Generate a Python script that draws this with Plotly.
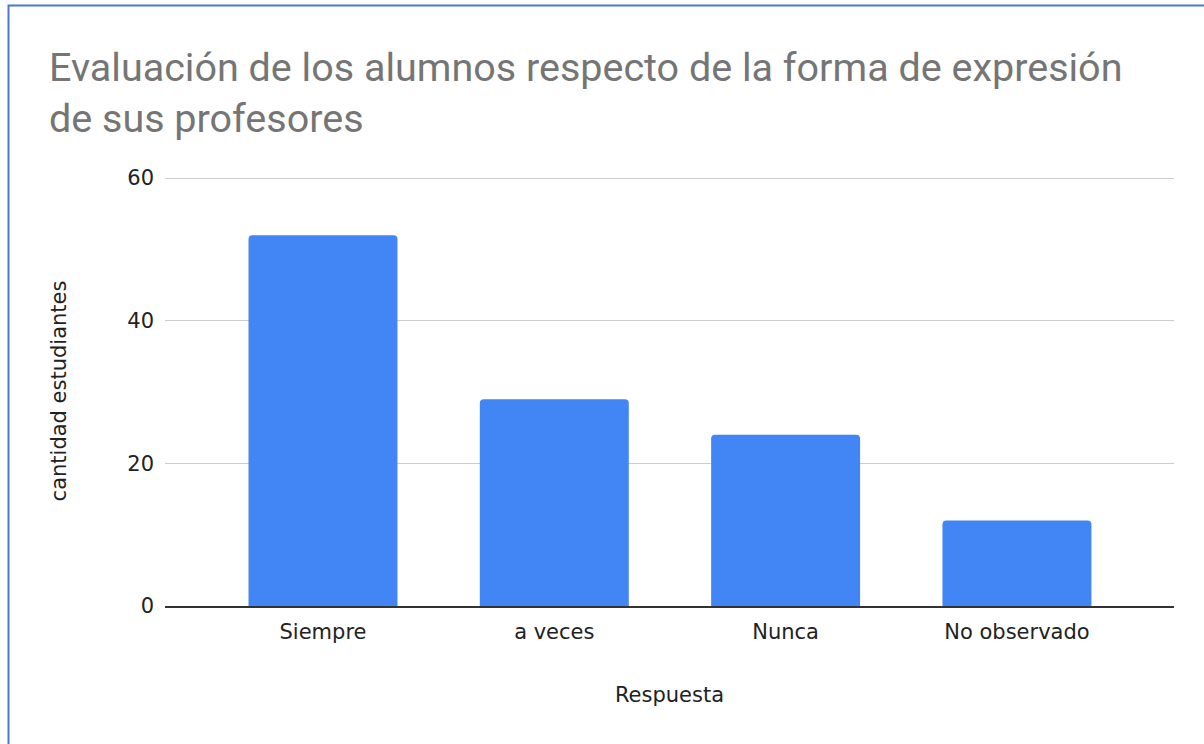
import plotly.graph_objects as go

categories = ["Siempre", "a veces", "Nunca", "No observado"]
values = [52, 29, 24, 12]
y_ticks = [0, 20, 40, 60]

W, H = 1204, 744
ML, MR, MT, MB = 165, 30, 176, 138

fig = go.Figure(go.Bar(
    x=categories, y=values, marker_color="#4285F4", width=0.644,
    marker_line_width=0,
))

fig.update_layout(
    width=W, height=H,
    margin=dict(l=ML, r=MR, t=MT, b=MB),
    paper_bgcolor="white", plot_bgcolor="white",
    barcornerradius=4,
    font=dict(family="DejaVu Sans, Arial, sans-serif", size=21, color="#222222"),
    title=dict(
        text="Evaluación de los alumnos respecto de la forma de expresión<br>de sus profesores",
        font=dict(family="Roboto, sans-serif", size=39.5, color="#757575"),
        x=49 / W, xanchor="left", xref="container",
        y=1 - 81 / H, yanchor="top", yref="container",
    ),
    showlegend=False,
)
fig.update_xaxes(
    range=[-0.683, 3.679], showgrid=False, showline=True, linecolor="#333333", linewidth=2,
    ticks="", ticklabelstandoff=6,
    title=dict(text="Respuesta", standoff=44, font=dict(size=21)),
)
fig.update_yaxes(
    range=[0, 60.3], tickvals=y_ticks, showgrid=True, gridcolor="#CCCCCC", gridwidth=1,
    zeroline=False, showline=False, ticks="", ticklabelstandoff=10,
    title=dict(text="cantidad estudiantes", standoff=54, font=dict(size=21)),
)
# outer border
fig.add_shape(type="rect", xref="paper", yref="paper",
              x0=(8.5 - ML) / (W - ML - MR), x1=(1215 - ML) / (W - ML - MR),
              y0=(H - MB - 770) / (H - MT - MB), y1=(H - MB - 5.5) / (H - MT - MB),
              line=dict(color="#4A78D0", width=2), fillcolor="rgba(0,0,0,0)", layer="above")

fig.write_html("out.html", config={"displayModeBar": False},
               post_script="document.body.style.margin='0';document.body.style.overflow='hidden';")
